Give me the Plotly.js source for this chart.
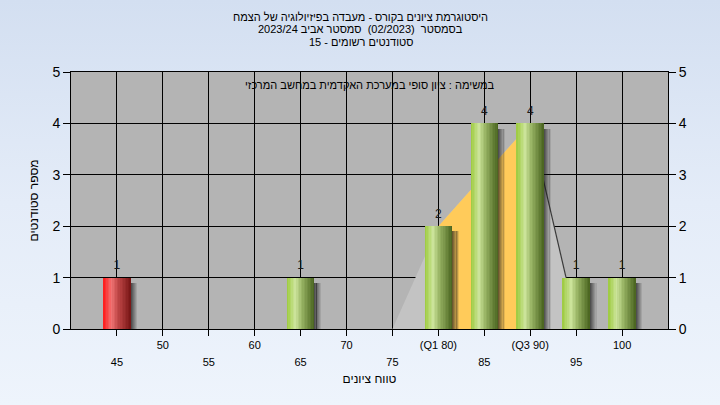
<!DOCTYPE html>
<html>
<head>
<meta charset="utf-8">
<script src="https://cdn.plot.ly/plotly-3.0.1.min.js"></script>
<style>
  html, body { margin: 0; padding: 0; }
  body { width: 720px; height: 405px; background: linear-gradient(to bottom, #D3DFF1 0%, #E4ECF8 50%, #EEF4FC 100%); }
  #chart { width: 720px; height: 405px; }
</style>
</head>
<body>
<div id="chart"></div>
<script>
// ---- data ----
const categories = [45, 50, 55, 60, 65, 70, 75, 80, 85, 90, 95, 100];
const tickLabels = ['45', '50', '55', '60', '65', '70', '75', '(Q1 80)', '85', '(Q3 90)', '95', '100'];
const counts = [1, 0, 0, 0, 1, 0, 0, 2, 4, 4, 1, 1];
const passMark = 55;

// distribution polygon behind the bars
const areaX = [75, 80, 90, 93.9, 95];
const areaY = [0, 2, 4, 1, 0];
// inter-quartile (Q1..Q3) part of it
const iqrX = [80, 90];
const iqrY = [2, 4];
// outlined descending edge
const edgeX = [90, 93.9];
const edgeY = [4, 1];

const titleLines = [
  'היסטוגרמת ציונים בקורס - מעבדה בפיזיולוגיה של הצמח',
  'בסמסטר  (02/2023)  סמסטר אביב 2023/24',
  'סטודנטים רשומים - 15'
];
const subTitle = 'במשימה : ציון סופי במערכת האקדמית במחשב המרכזי';
const xTitle = 'טווח ציונים';
const yTitle = 'מספר סטודנטים';

// ---- helpers ----
const FONT = 'Liberation Sans, Arial, DejaVu Sans, sans-serif';
const greenStops = [[0, [155, 202, 60]], [0.3, [204, 228, 155]], [0.55, [150, 178, 98]], [1, [72, 98, 30]]];
const redStops = [[0, [255, 24, 24]], [0.3, [240, 116, 116]], [0.55, [190, 70, 70]], [1, [118, 20, 20]]];
function grad(stops, t) {
  for (let i = 0; i < stops.length - 1; i++) {
    const [t0, c0] = stops[i], [t1, c1] = stops[i + 1];
    if (t >= t0 && t <= t1) {
      const f = (t - t0) / (t1 - t0);
      const c = c0.map((v, k) => Math.round(v + (c1[k] - v) * f));
      return 'rgb(' + c.join(',') + ')';
    }
  }
  return 'rgb(' + stops[stops.length - 1][1].join(',') + ')';
}

const barX = [], barY = [];
categories.forEach((c, i) => { if (counts[i] > 0) { barX.push(c); barY.push(counts[i]); } });

const traces = [];
// area (on main subplot, drawn beneath bars)
traces.push({
  type: 'scatter', x: areaX, y: areaY, xaxis: 'x', yaxis: 'y', mode: 'none',
  fill: 'tozeroy', fillcolor: '#C3C3C3', hoverinfo: 'skip', showlegend: false
});
traces.push({
  type: 'scatter', x: iqrX, y: iqrY, xaxis: 'x', yaxis: 'y', mode: 'none',
  fill: 'tozeroy', fillcolor: '#FFCB5A', hoverinfo: 'skip', showlegend: false
});
traces.push({
  type: 'scatter', x: edgeX, y: edgeY, xaxis: 'x', yaxis: 'y', mode: 'lines',
  line: { color: '#3a3a3a', width: 1.2 }, hoverinfo: 'skip', showlegend: false
});

const BW = 3;
// soft shadow on the right of each bar
const NS = 6;
for (let j = 0; j < NS; j++) {
  traces.push({
    type: 'bar', x: barX, y: barY.map(v => v - 0.1), xaxis: 'x', yaxis: 'y2',
    width: 0.14, offset: BW / 2 + j * 0.12 - 0.02,
    marker: { color: 'rgba(25,25,25,' + (0.65 * (1 - j / NS)).toFixed(3) + ')', line: { width: 0 } },
    hoverinfo: 'skip', showlegend: false
  });
}
// cylinder-shaded bars as thin slices
const N = 18;
for (let i = 0; i < N; i++) {
  const t = (i + 0.5) / N;
  const w = BW / N;
  traces.push({
    type: 'bar', x: barX, y: barY, xaxis: 'x', yaxis: 'y2',
    width: i < N - 1 ? w * 1.15 : w, offset: -BW / 2 + i * w,
    marker: { color: barX.map(x => x < passMark ? grad(redStops, t) : grad(greenStops, t)), line: { width: 0 } },
    hoverinfo: 'skip', showlegend: false
  });
}
// value labels (on x2 so that axis carries the second row of tick labels)
traces.push({
  type: 'scatter', x: barX, y: barY, xaxis: 'x2', yaxis: 'y2', mode: 'text+markers',
  marker: { size: 7, opacity: 0 },
  text: barY.map(String), textposition: 'top center',
  textfont: { family: FONT, size: 12, color: '#1a1a1a' }, cliponaxis: false,
  hoverinfo: 'skip', showlegend: false
});

const lowerVals = [], lowerText = [];
categories.forEach((c, i) => { if (i % 2 === 0) { lowerVals.push(c); lowerText.push(tickLabels[i]); } });

const H = 257; // plot height px, for paper y of title lines
const py = Y => (329 - Y) / H;
const tfont = { family: FONT, size: 11, color: '#000' };

const layout = {
  width: 720, height: 405,
  margin: { l: 71, r: 52, t: 72, b: 76 },
  paper_bgcolor: 'rgba(0,0,0,0)',
  plot_bgcolor: '#B4B4B4',
  showlegend: false,
  barmode: 'overlay',
  bargap: 0,
  font: { family: FONT, color: '#000' },
  xaxis: {
    range: [40, 105], tickmode: 'array', tickvals: categories,
    ticktext: categories.map((c, i) => (i % 2 === 1 ? tickLabels[i] : '')),
    showgrid: true, gridcolor: '#000', gridwidth: 1, zeroline: false,
    showline: true, linecolor: '#000', linewidth: 1, mirror: true,
    ticks: 'outside', ticklen: 6, tickcolor: '#000',
    tickfont: tfont,
    title: { text: xTitle, font: { family: FONT, size: 12, color: '#000' }, standoff: 24 },
    fixedrange: true
  },
  xaxis2: {
    overlaying: 'x', side: 'bottom', range: [40, 105], tickmode: 'array',
    tickvals: lowerVals, ticktext: lowerText,
    showgrid: false, zeroline: false, showline: false,
    ticks: 'outside', ticklen: 6, tickcolor: 'rgba(0,0,0,0)', ticklabelstandoff: 17,
    tickfont: tfont, fixedrange: true
  },
  yaxis: {
    range: [0, 5], tick0: 0, dtick: 1,
    showgrid: true, gridcolor: '#000', gridwidth: 1, zeroline: false,
    showline: true, linecolor: '#000', linewidth: 1, mirror: true,
    ticks: 'outside', ticklen: 7, tickcolor: '#000',
    tickfont: { family: FONT, size: 14, color: '#000' },
    title: { text: yTitle, font: { family: FONT, size: 12, color: '#000' }, standoff: 11 },
    fixedrange: true
  },
  yaxis2: {
    overlaying: 'y', side: 'right', range: [0, 5], tick0: 0, dtick: 1,
    showgrid: false, zeroline: false, showline: false,
    ticks: 'outside', ticklen: 7, tickcolor: '#000',
    tickfont: { family: FONT, size: 14, color: '#000' },
    fixedrange: true
  },
  annotations: [
    { text: titleLines[0], xref: 'paper', yref: 'paper', x: 0.485, y: py(17), xanchor: 'center', yanchor: 'middle', showarrow: false, font: { family: FONT, size: 11, color: '#000' } },
    { text: titleLines[1], xref: 'paper', yref: 'paper', x: 0.485, y: py(29.5), xanchor: 'center', yanchor: 'middle', showarrow: false, font: { family: FONT, size: 11, color: '#000' } },
    { text: titleLines[2], xref: 'paper', yref: 'paper', x: 0.485, y: py(42), xanchor: 'center', yanchor: 'middle', showarrow: false, font: { family: FONT, size: 11, color: '#000' } },
    { text: subTitle, xref: 'paper', yref: 'paper', x: 0.5, y: py(85), xanchor: 'center', yanchor: 'middle', showarrow: false, font: { family: FONT, size: 11, color: '#000' } }
  ]
};

Plotly.newPlot('chart', traces, layout, { displayModeBar: false, staticPlot: true });
</script>
</body>
</html>
